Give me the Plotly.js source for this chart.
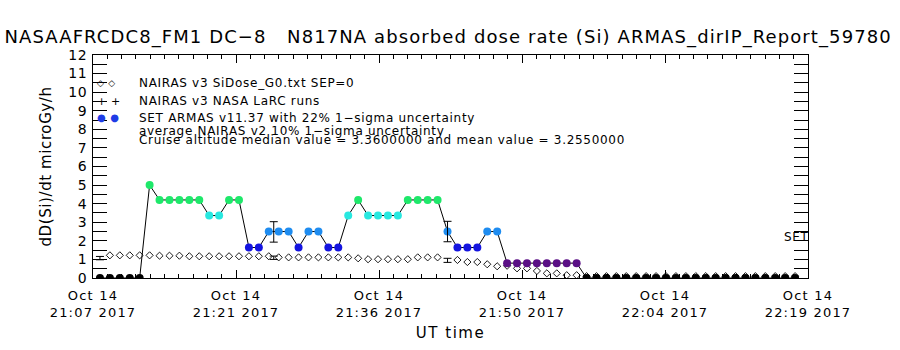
<!DOCTYPE html>
<html><head><meta charset="utf-8">
<script src="https://cdn.plot.ly/plotly-3.0.1.min.js"></script>
<style>
body{margin:0;background:#fff}#c{width:900px;height:350px}
#c text.annotation-text{letter-spacing:0.7px}
#c text.gtitle{letter-spacing:1.1px}
#c .xtick text{letter-spacing:1.2px}
#c .ytick text{letter-spacing:0.5px}
#c text.xtitle{letter-spacing:1.5px}
#c text.ytitle{letter-spacing:0.6px}
</style>
</head><body><div id="c"></div>
<script>
// ---- data ----
const armasValues = [0,0,0,0,0, 5.0, 4.2,4.2,4.2,4.2,4.2, 3.36,3.36, 4.2,4.2, 1.64,1.64,
  2.5,2.5,2.5, 1.64, 2.5,2.5, 1.64,1.64, 3.36, 4.2, 3.36,3.36,3.36,3.36, 4.2,4.2,4.2,4.2,
  2.5, 1.64,1.64,1.64, 2.5,2.5, 0.8,0.8,0.8,0.8,0.8,0.8,0.8,0.8,
  0,0,0,0,0,0,0,0,0,0,0,0,0,0,0,0,0,0,0,0,0,0];
const nairasValues = [null, 1.22,1.22,1.22,1.22,1.22, 1.2,1.2,1.2, 1.17,1.17,1.17,1.17,1.17,1.17,
  1.17,1.17,1.17, 1.11,1.11,1.11,1.11,1.11,1.11,1.11,1.11, 1.06, 1.01,1.01,1.01,1.01,1.01,
  1.11,1.11,1.11, null, 0.97, 0.86,0.86, 0.74, 0.63, 0.66, 0.52,0.52, 0.38, 0.25,0.25, 0.15,0.15,
  0.1,0.1,0.1,0.1,0.1,0.1,0.1,0.1,0.1,0.1,0.1,0.1,0.1,0.1,0.1,0.1,0.1,0.1,0.1,0.1,0.1,0.1];
const armasErrTimes = ['2017-10-14 21:25:30', '2017-10-14 21:43:00'];
const armasErrMean = [2.48, 2.5];
const armasErrSigma = [0.55, 0.55];
const nairasErrTimes = ['2017-10-14 21:08:00', '2017-10-14 21:25:30', '2017-10-14 21:43:00'];
const nairasErrMean = [1.07, 1.09, 0.95];
const nairasErrSigma = [0.09, 0.09, 0.11];
const xRange = ['2017-10-14 21:07:18', '2017-10-14 22:19:18'];
const tickTimes = ['2017-10-14 21:07:18','2017-10-14 21:21:42','2017-10-14 21:36:06',
  '2017-10-14 21:50:30','2017-10-14 22:04:54','2017-10-14 22:19:18'];
const tickLabels = ['Oct 14<br>21:07 2017','Oct 14<br>21:21 2017','Oct 14<br>21:36 2017',
  'Oct 14<br>21:50 2017','Oct 14<br>22:04 2017','Oct 14<br>22:19 2017'];
const legendTexts = ['NAIRAS v3 SiDose_G0.txt SEP=0', 'NAIRAS v3 NASA LaRC runs',
  'SET ARMAS v11.37 with 22% 1\u2212sigma uncertainty', 'average NAIRAS v2 10% 1\u2212sigma uncertainty',
  'Cruise altitude median value = 3.3600000 and mean value = 3.2550000'];
const legendSymbols = ['\u25C7 \u25C7', '+ +', '\u25CF \u25CF'];
const titleText = 'NASAAFRCDC8_FM1 DC\u22128   N817NA absorbed dose rate (Si) ARMAS_dirIP_Report_59780';

// ---- helpers ----
function minuteStamp(i){
  const d = new Date(Date.UTC(2017,9,14,21,8,0) + i*60000);
  const p = n => String(n).padStart(2,'0');
  return '2017-10-14 ' + p(d.getUTCHours()) + ':' + p(d.getUTCMinutes()) + ':00';
}
const times = armasValues.map((_, i) => minuteStamp(i));
function doseColor(v){
  if (v <= 0.05) return '#000000';
  if (v < 1.2) return '#5a0f85';
  if (v < 2.0) return '#1414e0';
  if (v < 3.0) return '#1e8cf0';
  if (v < 3.8) return '#28e8e0';
  return '#1ee86a';
}
const FONT = 'DejaVu Sans, sans-serif';

const traces = [
  { x: times, y: nairasValues, type: 'scatter', mode: 'markers', cliponaxis: true,
    marker: {symbol: 'diamond-open', size: 5.5, color: '#000', line: {width: 0.9}}, hoverinfo: 'skip' },
  { x: times, y: armasValues, type: 'scatter', mode: 'lines+markers', cliponaxis: true,
    line: {color: '#000', width: 1},
    marker: {symbol: 'circle', size: 8, color: armasValues.map(doseColor), line: {width: 0}} },
  { x: armasErrTimes, y: armasErrMean, type: 'scatter', mode: 'markers',
    marker: {size: 1, color: 'rgba(0,0,0,0)'},
    error_y: {type: 'data', array: armasErrSigma, visible: true, color: '#000', thickness: 1, width: 4} },
  { x: nairasErrTimes, y: nairasErrMean, type: 'scatter', mode: 'markers',
    marker: {size: 1, color: 'rgba(0,0,0,0)'},
    error_y: {type: 'data', array: nairasErrSigma, visible: true, color: '#000', thickness: 1, width: 4} }
];

const legendY = [0.874, 0.794, 0.717, 0.659, 0.619];
const annotations = legendTexts.map((t, k) => ({
  text: t, xref: 'paper', yref: 'paper', x: 0.0615, y: legendY[k], xanchor: 'left', yanchor: 'middle',
  align: 'left', showarrow: false, font: {family: FONT, size: 12, color: '#000'}
}));
const symColors = ['#000', '#000', '#1e3ce6'];
const symSizes = [9, 11, 10];
const symY = [0.874, 0.791, 0.719];
legendSymbols.forEach((s, k) => annotations.push({
  text: s, xref: 'paper', yref: 'paper', x: 0.0023, y: symY[k], xanchor: 'left', yanchor: 'middle',
  align: 'left', showarrow: false, font: {family: FONT, size: symSizes[k], color: symColors[k]}
}));
annotations.push({ text: 'SET', xref: 'paper', yref: 'paper', x: 1.004, y: 0.184, xanchor: 'right',
  yanchor: 'middle', align: 'right', showarrow: false, font: {family: FONT, size: 12, color: '#000'} });

const layout = {
  width: 900, height: 350,
  margin: {l: 93, r: 92, t: 55, b: 72, pad: 0},
  paper_bgcolor: '#fff', plot_bgcolor: '#fff',
  showlegend: false,
  font: {family: FONT, color: '#000'},
  title: {text: titleText, xref: 'container', yref: 'container', x: 0.005, y: 0.894,
    xanchor: 'left', yanchor: 'middle', font: {family: FONT, size: 18, color: '#000'}},
  xaxis: {type: 'date', range: xRange, tickmode: 'array', tickvals: tickTimes, ticktext: tickLabels,
    ticks: 'inside', ticklen: 8, tickcolor: '#000', showline: true, linecolor: '#000', linewidth: 1,
    mirror: 'ticks', showgrid: false, zeroline: false, ticklabelstandoff: 5,
    tickfont: {family: FONT, size: 13, color: '#000'},
    minor: {tickmode: 'linear', tick0: xRange[0], dtick: 86400, ticks: 'inside', ticklen: 4,
      tickcolor: '#000', showgrid: false},
    title: {text: 'UT time', font: {family: FONT, size: 15, color: '#000'}, standoff: 8}},
  yaxis: {range: [0, 12], tickmode: 'linear', tick0: 0, dtick: 1,
    ticks: 'inside', ticklen: 14, tickcolor: '#000', showline: true, linecolor: '#000', linewidth: 1,
    mirror: 'ticks', showgrid: false, zeroline: false, ticklabelstandoff: 2,
    tickfont: {family: FONT, size: 14, color: '#000'},
    minor: {tickmode: 'linear', tick0: 0.5, dtick: 1, ticks: 'inside', ticklen: 14, tickcolor: '#000', showgrid: false},
    title: {text: 'dD(Si)/dt microGy/h', font: {family: FONT, size: 15, color: '#000'}, standoff: 14}},
  annotations: annotations
};

Plotly.newPlot('c', traces, layout, {staticPlot: true, displayModeBar: false});
</script></body></html>
